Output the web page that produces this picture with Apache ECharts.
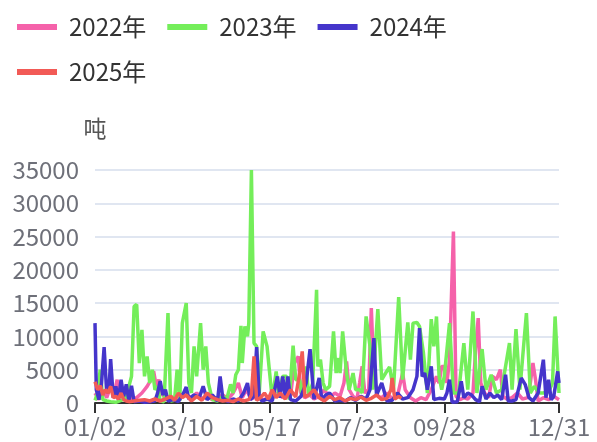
<!DOCTYPE html>
<html>
<head>
<meta charset="utf-8">
<title>吨</title>
<script src="https://cdn.jsdelivr.net/npm/echarts@6/dist/echarts.min.js"></script>
<style>
  html, body { margin: 0; padding: 0; background: #fff; }
  #main { width: 597px; height: 442px; }
</style>
</head>
<body>
<div id="main"></div>
<script>
// x categories: MM/DD, daily, a few dates absent from the data
const missingDays = ['05/01', '10/01', '10/02', '10/03', '10/04', '10/05', '10/06']
const days = []
for (let t = Date.UTC(2023, 0, 2); t <= Date.UTC(2023, 11, 31); t += 86400000) {
  const d = new Date(t)
  const s = String(d.getUTCMonth() + 1).padStart(2, '0') + '/' + String(d.getUTCDate()).padStart(2, '0')
  if (missingDays.indexOf(s) < 0) days.push(s)
}

const seriesNames = ['2022年', '2023年', '2024年', '2025年']
const seriesColors = ['#F562AA', '#74EE5A', '#4535CB', '#F25A56']

// [day index, 吨]
const data2022 = [
  [0, 1500], [3, 500], [6, 2000], [9, 800], [12, 2500], [15, 1500], [17, 3500], [19, 1000],
  [22, 2000], [25, 1200], [28, 600], [32, 800], [36, 1500], [40, 2500], [43, 3500], [45, 4750],
  [47, 2500], [49, 3500], [52, 1200], [55, 500], [58, 1000], [62, 500], [66, 1000], [70, 1200],
  [74, 800], [78, 1500], [82, 600], [86, 1000], [90, 500], [94, 800], [98, 1200], [102, 600],
  [106, 1500], [110, 3000], [113, 800], [116, 2000], [120, 600], [124, 1000], [128, 500],
  [132, 600], [136, 1000], [140, 1500], [144, 800], [147, 2000], [150, 1000], [153, 6000],
  [156, 7000], [158, 1500], [161, 800], [165, 1200], [168, 600], [172, 1000], [176, 2000],
  [180, 800], [184, 1500], [188, 1000], [191, 3000], [193, 6250], [195, 2000], [198, 1000],
  [201, 600], [203, 3000], [205, 5500], [207, 1500], [210, 2000], [212, 14250], [214, 4000],
  [217, 1000], [220, 800], [224, 1500], [228, 600], [232, 1000], [236, 4500], [238, 2000],
  [242, 800], [246, 300], [250, 800], [254, 500], [258, 2000], [262, 4000], [264, 3000],
  [266, 5500], [268, 5500], [270, 3000], [272, 6500], [275, 25750], [277, 1000], [280, 500],
  [283, 800], [286, 600], [290, 1500], [292, 8000], [294, 12750], [296, 3000], [299, 1500],
  [302, 800], [305, 4000], [308, 3500], [311, 5000], [313, 1000], [316, 600], [320, 800],
  [324, 1500], [328, 600], [332, 800], [334, 3000], [336, 6000], [338, 3500], [340, 300],
  [344, 800], [348, 500], [352, 1000], [356, 500]
]
const data2023 = [
  [0, 400], [2, 1500], [4, 5000], [6, 500], [9, 300], [12, 200], [16, 100], [20, 400],
  [23, 600], [26, 2500], [28, 4000], [30, 14500], [31, 14200], [32, 14800], [34, 6000],
  [36, 11000], [38, 4000], [40, 7000], [42, 3000], [44, 5000], [46, 2000], [48, 2500],
  [50, 300], [53, 200], [56, 13500], [58, 300], [61, 400], [63, 5000], [65, 300], [67, 12000],
  [68, 13000], [70, 15000], [72, 3000], [74, 1500], [76, 8500], [78, 4000], [81, 12000],
  [83, 5000], [85, 8500], [87, 3000], [90, 500], [94, 300], [98, 1000], [101, 500],
  [104, 2800], [106, 1500], [108, 4250], [110, 5000], [112, 11600], [113, 6000], [115, 11500],
  [117, 10000], [118, 12000], [120, 35000], [122, 9000], [124, 8500], [126, 1500], [129, 10750],
  [132, 8500], [134, 4500], [136, 500], [139, 4750], [141, 1000], [144, 4000], [147, 4000],
  [149, 500], [152, 8600], [154, 3500], [157, 3500], [159, 1000], [162, 5500], [164, 1000],
  [167, 3000], [170, 17000], [171, 5500], [173, 6500], [175, 3000], [177, 2000], [180, 2500],
  [183, 10750], [185, 4500], [187, 6750], [188, 4500], [190, 10750], [193, 4500], [195, 2000],
  [198, 4500], [200, 2000], [203, 2000], [205, 1500], [208, 13000], [211, 8500], [213, 2000],
  [217, 14100], [220, 3500], [223, 4500], [226, 5400], [229, 2000], [233, 15900], [236, 3500],
  [240, 12100], [242, 6500], [244, 12000], [247, 12100], [249, 11500], [252, 7500], [255, 1500],
  [258, 12600], [260, 8500], [262, 13000], [264, 4000], [266, 2000], [268, 4000], [272, 12000],
  [275, 1500], [279, 1500], [283, 9000], [286, 2000], [290, 13750], [293, 1500], [297, 8100],
  [300, 2000], [304, 4250], [308, 1500], [312, 2000], [318, 9000], [320, 2000], [323, 11100],
  [326, 2000], [331, 13500], [334, 1500], [337, 2500], [341, 1500], [344, 1500], [348, 1700],
  [351, 3000], [353, 13000], [356, 1500]
]
const data2024 = [
  [0, 12000], [1, 2000], [3, 500], [5, 3000], [7, 8400], [9, 1500], [11, 3000], [12, 6600],
  [14, 800], [16, 2500], [18, 500], [20, 3500], [22, 1000], [24, 2800], [26, 300], [28, 2600],
  [30, 200], [34, 300], [38, 100], [42, 200], [46, 300], [48, 1500], [50, 3300], [52, 1200],
  [54, 2000], [56, 300], [60, 500], [64, 200], [68, 1500], [70, 2400], [72, 600], [76, 1200],
  [80, 800], [83, 2500], [86, 500], [90, 1200], [94, 300], [96, 4000], [98, 800], [102, 200],
  [106, 600], [110, 300], [114, 1500], [117, 3000], [119, 500], [122, 1000], [124, 8400],
  [126, 1000], [128, 300], [132, 600], [136, 300], [140, 4000], [142, 800], [144, 4000],
  [146, 1000], [148, 4000], [150, 500], [154, 300], [158, 1000], [162, 3000], [165, 8100],
  [168, 600], [172, 3750], [174, 500], [177, 1200], [180, 1500], [184, 300], [188, 400],
  [192, 300], [196, 800], [200, 400], [204, 1000], [208, 600], [211, 2000], [214, 9750],
  [216, 1200], [220, 3000], [224, 300], [228, 400], [232, 1500], [236, 600], [240, 800],
  [244, 2000], [247, 4000], [249, 11250], [251, 4000], [253, 4500], [255, 2000], [258, 5500],
  [260, 500], [264, 700], [268, 600], [270, 1500], [272, 3500], [274, 100], [278, 200],
  [281, 3250], [283, 800], [286, 1500], [289, 1200], [292, 500], [295, 200], [297, 2500],
  [300, 600], [303, 1500], [306, 800], [309, 1200], [312, 500], [315, 4250], [317, 300],
  [320, 300], [323, 500], [327, 3750], [330, 2800], [333, 800], [336, 300], [340, 1500],
  [344, 6500], [346, 800], [348, 3500], [350, 500], [352, 1000], [355, 4750], [356, 3000]
]
const data2025 = [
  [0, 3200], [2, 2000], [4, 2600], [6, 1200], [8, 2000], [10, 1500], [12, 2500], [14, 800],
  [16, 1000], [18, 600], [20, 1500], [22, 500], [24, 300], [26, 200], [30, 300], [34, 400],
  [38, 500], [42, 300], [46, 600], [50, 300], [54, 600], [58, 1000], [61, 400], [64, 1500],
  [67, 800], [70, 1200], [74, 300], [78, 1000], [82, 400], [86, 1500], [90, 800], [94, 500],
  [98, 300], [102, 400], [106, 200], [110, 600], [114, 300], [118, 500], [120, 1200],
  [122, 7000], [124, 400], [127, 800], [130, 1500], [133, 600], [136, 2000], [139, 800],
  [142, 1500], [146, 600], [150, 2000], [154, 900], [157, 4500], [159, 7750], [161, 900],
  [164, 1200], [168, 2000], [172, 800], [176, 300], [180, 1000], [184, 500], [188, 800],
  [192, 300], [196, 700], [200, 500], [204, 900], [208, 400], [212, 700], [216, 1200],
  [220, 500], [224, 700], [227, 2000], [228, 3750], [230, 600], [233, 1000], [235, 700]
]
const allData = [data2022, data2023, data2024, data2025]

const chart = echarts.init(document.getElementById('main'))

const option = {
  color: seriesColors,
  textStyle: { fontFamily: 'Noto Sans CJK SC' },
  legend: {
    left: 12,
    right: 20,
    top: 10,
    icon: 'rect',
    itemWidth: 40,
    itemHeight: 6,
    itemGap: 21,
    textStyle: { fontSize: 24, lineHeight: 21, color: '#333', padding: [0, 0, 0, 7] },
    data: seriesNames,
  },
  grid: {
    left: 95,
    right: 38,
    top: 170,
    bottom: 39,
  },
  xAxis: {
    type: 'category',
    boundaryGap: false,
    data: days,
    axisLine: { lineStyle: { color: '#333', width: 2 } },
    axisTick: { length: 10, interval: 66, lineStyle: { width: 2 } },
    axisLabel: {
      interval: 66,
      showMaxLabel: true,
      fontSize: 24,
      margin: 12,
      color: '#6E7079',
    },
  },
  yAxis: {
    type: 'value',
    name: '吨',
    nameGap: 30,
    nameTextStyle: { fontSize: 23, color: '#555' },
    min: 0,
    max: 35000,
    interval: 5000,
    axisLabel: {
      fontSize: 24,
      margin: 16,
      color: '#6E7079',
      formatter: function (v) {
        return String(v)
      },
    },
    splitLine: { lineStyle: { color: '#E0E6F1', width: 2 } },
  },
  series: seriesNames.map(function (name, i) {
    return {
      name: name,
      type: 'line',
      symbol: 'none',
      lineStyle: { width: 3.5 },
      data: allData[i],
    }
  }),
}
chart.setOption(option)
</script>
</body>
</html>
